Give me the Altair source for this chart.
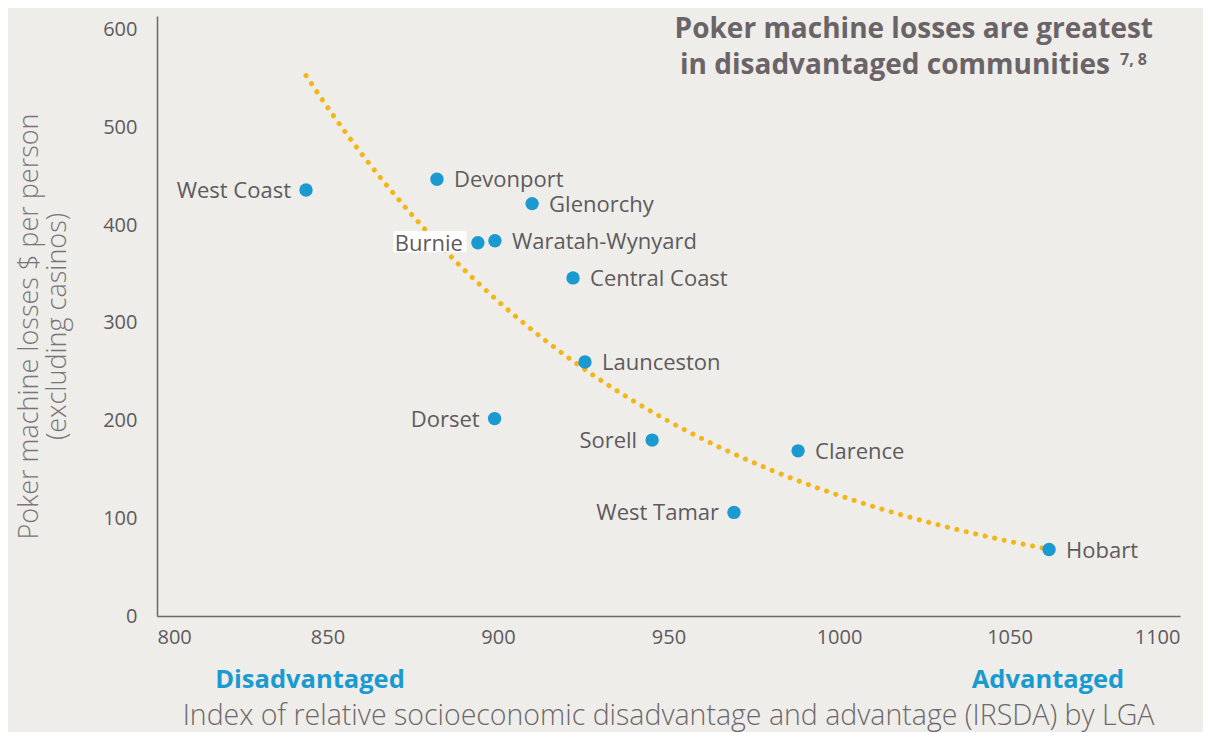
import altair as alt
import pandas as pd

names = ["West Coast", "Devonport", "Glenorchy", "Burnie", "Waratah-Wynyard",
         "Central Coast", "Launceston", "Dorset", "Sorell", "Clarence",
         "West Tamar", "Hobart"]
irsda = [843.7, 882.1, 910.0, 894.1, 899.1, 922.0, 925.5, 899.0, 945.2, 988.0, 969.2, 1061.6]
losses = [436, 447, 422, 382, 384, 346, 260, 202, 180, 169, 106, 68]
side = ["left", "right", "right", "left", "right", "right", "right", "left",
        "left", "right", "left", "right"]

df = pd.DataFrame({"name": names, "x": irsda, "y": losses, "side": side})

FONT = "Open Sans"
BG = "#eeede9"
BLUE = "#1b9ad2"
GOLD = "#f2b619"
GREY = "#5f5a5d"
TITLE = "#6a6367"

xs = alt.Scale(domain=[800, 1100], nice=False)
ys = alt.Scale(domain=[0, 614], nice=False)

base = alt.Chart(df)

# exponential trend line: least squares fit of log(y) on x, sampled across the data range
trend = (
    base.transform_calculate(ly="log(datum.y)")
    .transform_joinaggregate(mx="mean(x)", my="mean(ly)", xmin="min(x)", xmax="max(x)")
    .transform_calculate(pxy="(datum.x - datum.mx) * (datum.ly - datum.my)",
                         pxx="(datum.x - datum.mx) * (datum.x - datum.mx)")
    .transform_joinaggregate(sxy="sum(pxy)", sxx="sum(pxx)")
    .transform_window(rn="row_number()")
    .transform_filter(alt.datum.rn == 1)
    .transform_calculate(t="sequence(0, 1.0001, 0.02)")
    .transform_flatten(["t"])
    .transform_calculate(xt="datum.xmin + datum.t * (datum.xmax - datum.xmin)")
    .transform_calculate(yt="exp(datum.my + datum.sxy / datum.sxx * (datum.xt - datum.mx))")
    .mark_line(color=GOLD, strokeWidth=5, strokeCap="round", strokeDash=[0.1, 9.6])
    .encode(
        x=alt.X("xt:Q", scale=xs, axis=alt.Axis(
            values=[800, 850, 900, 950, 1000, 1050, 1100], format="d",
            title="Index of relative socioeconomic disadvantage and advantage (IRSDA) by LGA",
            titleFontSize=28.5, titleFont=FONT, titleFontWeight=300, titleColor="#6d686b",
            titleBaseline="alphabetic", titleY=108, titleX=511,
            labelFontSize=20, labelFont=FONT, labelColor=GREY, labelPadding=11,
            ticks=False, grid=False, domainColor="#6d676a", domainWidth=1.5)),
        y=alt.Y("yt:Q", scale=ys, axis=alt.Axis(
            values=[0, 100, 200, 300, 400, 500, 600],
            title=["Poker machine losses $ per person", "(excluding casinos)"],
            titleFontSize=27, titleFont=FONT, titleFontWeight=300, titleColor="#7a7578",
            titleX=-141, titleY=310, titleBaseline="top", titleAlign="center", titleAngle=-90,
            titleLineHeight=28,
            labelFontSize=20, labelFont=FONT, labelColor=GREY, labelPadding=20,
            ticks=False, grid=False, domainColor="#6d676a", domainWidth=1.5)),
        order="t:Q",
    )
)

burnie_box = base.transform_filter(alt.datum.name == "Burnie").mark_rect(
    width=73, height=21, xOffset=-48, yOffset=-1, color="white"
).encode(x=alt.X("x:Q", scale=xs), y=alt.Y("y:Q", scale=ys))

points = base.mark_circle(size=180, color=BLUE, opacity=1).encode(
    x=alt.X("x:Q", scale=xs), y=alt.Y("y:Q", scale=ys)
)

labels_r = base.transform_filter(alt.datum.side == "right").mark_text(
    align="left", baseline="middle", dx=17, dy=1, fontSize=22, font=FONT, color=GREY
).encode(x=alt.X("x:Q", scale=xs), y=alt.Y("y:Q", scale=ys), text="name:N")

labels_l = base.transform_filter(alt.datum.side == "left").mark_text(
    align="right", baseline="middle", dx=-15, dy=1, fontSize=22, font=FONT, color=GREY
).encode(x=alt.X("x:Q", scale=xs), y=alt.Y("y:Q", scale=ys), text="name:N")

title1 = alt.Chart(pd.DataFrame({"t": ["Poker machine losses are greatest"]})).mark_text(
    align="right", baseline="middle", fontSize=28, font=FONT, fontWeight="bold", color=TITLE
).encode(x=alt.value(996), y=alt.value(14), text="t:N")

title2 = alt.Chart(pd.DataFrame({"t": ["in disadvantaged communities"]})).mark_text(
    align="right", baseline="middle", fontSize=28, font=FONT, fontWeight="bold", color=TITLE
).encode(x=alt.value(953), y=alt.value(50), text="t:N")

sup = alt.Chart(pd.DataFrame({"t": ["7, 8"]})).mark_text(
    align="left", baseline="middle", fontSize=16, font=FONT, fontWeight="bold", color=TITLE
).encode(x=alt.value(963), y=alt.value(44), text="t:N")

dis = alt.Chart(pd.DataFrame({"t": ["Disadvantaged"]})).mark_text(
    align="center", baseline="middle", fontSize=25.5, font=FONT, fontWeight="bold", color=BLUE
).encode(x=alt.value(153), y=alt.value(664), text="t:N")

adv = alt.Chart(pd.DataFrame({"t": ["Advantaged"]})).mark_text(
    align="center", baseline="middle", fontSize=25.5, font=FONT, fontWeight="bold", color=BLUE
).encode(x=alt.value(891), y=alt.value(664), text="t:N")

chart = alt.layer(trend, burnie_box, points, labels_r, labels_l, title1, title2, sup, dis, adv).properties(
    width=1023, height=600,
    padding={"left": 149, "top": 8, "right": 23, "bottom": 116},
    autosize=alt.AutoSizeParams(type="none"),
    background=BG,
).configure_view(stroke=None)

chart.save("out.html", embed_options={"renderer": "svg", "actions": False})
